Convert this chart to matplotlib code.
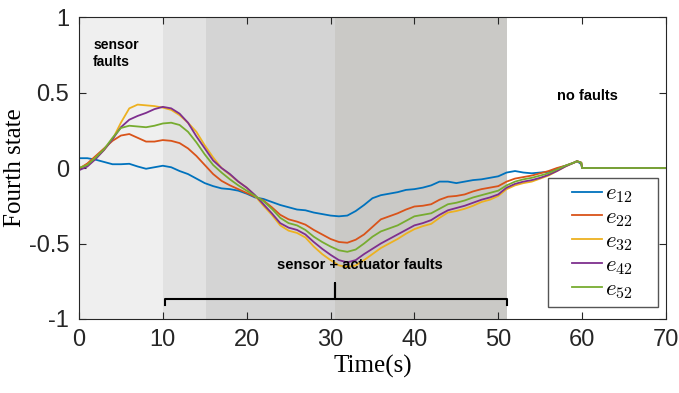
import matplotlib
matplotlib.use('Agg')
import matplotlib.pyplot as plt
from matplotlib.patches import Rectangle

# time samples (s)
t = [0, 1, 2, 3, 4, 5, 6, 7, 8, 9, 10, 11, 12, 13, 14, 15, 16, 17, 18, 19,
     20, 21, 22, 23, 24, 25, 26, 27, 28, 29, 30, 31, 32, 33, 34, 35, 36, 37, 38, 39,
     40, 41, 42, 43, 44, 45, 46, 47, 48, 49, 50, 51, 52, 53, 54, 55, 56, 57, 58, 59,
     59.4, 59.9, 60, 70]

e12 = [0.065, 0.065, 0.055, 0.04, 0.025, 0.025, 0.028, 0.01, -0.005, 0.005,
       0.015, 0.005, -0.02, -0.04, -0.07, -0.1, -0.12, -0.135, -0.14, -0.15,
       -0.17, -0.195, -0.205, -0.225, -0.245, -0.26, -0.275, -0.28, -0.295, -0.305,
       -0.315, -0.32, -0.315, -0.285, -0.245, -0.2, -0.18, -0.17, -0.16, -0.145,
       -0.14, -0.13, -0.115, -0.09, -0.09, -0.1, -0.09, -0.08, -0.075, -0.065,
       -0.055, -0.03, -0.02, -0.03, -0.035, -0.03, -0.025, -0.005, 0.015, 0.035,
       0.045, 0.025, 0.0, 0.0]
e22 = [-0.005, 0.03, 0.08, 0.13, 0.18, 0.215, 0.225, 0.2, 0.175, 0.175,
       0.185, 0.18, 0.165, 0.13, 0.08, 0.02, -0.04, -0.085, -0.115, -0.14,
       -0.165, -0.19, -0.215, -0.26, -0.31, -0.34, -0.355, -0.375, -0.41, -0.44,
       -0.47, -0.49, -0.495, -0.475, -0.44, -0.39, -0.34, -0.32, -0.3, -0.275,
       -0.255, -0.25, -0.24, -0.21, -0.19, -0.185, -0.175, -0.155, -0.14, -0.13,
       -0.12, -0.09, -0.07, -0.06, -0.05, -0.035, -0.02, 0.0, 0.015, 0.035,
       0.045, 0.035, 0.0, 0.0]
e32 = [0.0, 0.02, 0.07, 0.12, 0.19, 0.3, 0.395, 0.42, 0.415, 0.41,
       0.4, 0.385, 0.35, 0.3, 0.24, 0.15, 0.07, 0.0, -0.045, -0.09,
       -0.13, -0.185, -0.25, -0.31, -0.38, -0.415, -0.43, -0.46, -0.52, -0.57,
       -0.61, -0.645, -0.655, -0.645, -0.61, -0.57, -0.53, -0.5, -0.47, -0.435,
       -0.405, -0.385, -0.37, -0.33, -0.295, -0.285, -0.27, -0.25, -0.225, -0.21,
       -0.185, -0.14, -0.115, -0.1, -0.09, -0.07, -0.05, -0.02, 0.01, 0.035,
       0.045, 0.035, 0.0, 0.0]
e42 = [-0.015, 0.01, 0.06, 0.12, 0.19, 0.27, 0.32, 0.345, 0.365, 0.39,
       0.405, 0.395, 0.36, 0.3, 0.21, 0.13, 0.05, 0.0, -0.04, -0.09,
       -0.13, -0.18, -0.24, -0.3, -0.365, -0.395, -0.41, -0.44, -0.49, -0.535,
       -0.575, -0.61, -0.625, -0.61, -0.57, -0.535, -0.5, -0.47, -0.44, -0.41,
       -0.38, -0.365, -0.345, -0.31, -0.28, -0.265, -0.25, -0.23, -0.21, -0.195,
       -0.175, -0.13, -0.105, -0.09, -0.08, -0.065, -0.045, -0.02, 0.01, 0.035,
       0.045, 0.035, 0.0, 0.0]
e52 = [0.0, 0.02, 0.07, 0.125, 0.2, 0.265, 0.28, 0.275, 0.27, 0.28,
       0.295, 0.3, 0.285, 0.24, 0.17, 0.09, 0.02, -0.03, -0.075, -0.115,
       -0.15, -0.185, -0.22, -0.27, -0.33, -0.365, -0.38, -0.41, -0.455, -0.49,
       -0.52, -0.545, -0.555, -0.54, -0.5, -0.455, -0.42, -0.4, -0.38, -0.35,
       -0.32, -0.31, -0.3, -0.27, -0.24, -0.23, -0.215, -0.195, -0.18, -0.165,
       -0.15, -0.115, -0.09, -0.075, -0.065, -0.05, -0.035, -0.01, 0.015, 0.035,
       0.045, 0.035, 0.0, 0.0]

series = [e12, e22, e32, e42, e52]
labels = ['$e_{12}$', '$e_{22}$', '$e_{32}$', '$e_{42}$', '$e_{52}$']
colors = ['#0072BD', '#D95319', '#EDB120', '#7E2F8E', '#77AC30']

# shaded fault phases
band_edges = [0, 10, 15.1, 30.5, 51.1]
band_colors = ['#efefef', '#e2e2e2', '#d4d4d4', '#cac9c6']

plt.rcParams['mathtext.fontset'] = 'cm'

fig = plt.figure(figsize=(6.79, 3.93), dpi=100)
ax = fig.add_axes([0.1163, 0.1883, 0.8645, 0.7684])

for i in range(len(band_colors)):
    ax.axvspan(band_edges[i], band_edges[i + 1], color=band_colors[i], lw=0, zorder=0)

for y, lab, c in zip(series, labels, colors):
    ax.plot(t, y, color=c, lw=1.3, label=lab, zorder=2)

ax.set_xlim(0, 70)
ax.set_ylim(-1, 1)
ax.set_xticks(range(0, 71, 10))
ax.set_yticks([-1, -0.5, 0, 0.5, 1])
ax.set_yticklabels(['-1', '-0.5', '0', '0.5', '1'])
ax.tick_params(direction='in', top=True, right=True, length=5, width=0.8,
               colors='#262626', labelsize=17, pad=7)
for lab in ax.get_xticklabels() + ax.get_yticklabels():
    lab.set_family('Liberation Sans')
for s in ax.spines.values():
    s.set_color('#262626')
    s.set_linewidth(0.8)

ax.set_xlabel('Time(s)', family='Liberation Serif', fontsize=18, labelpad=3)
ax.set_ylabel('Fourth state', family='Liberation Serif', fontsize=18, labelpad=2)

# annotations
ax.text(1.7, 0.76, 'sensor\nfaults', fontsize=10, fontweight='bold',
        family='Liberation Sans', va='center', ha='left', linespacing=1.25)
ax.text(60.6, 0.48, 'no faults', fontsize=10.5, fontweight='bold',
        family='Liberation Sans', va='center', ha='center')
ax.text(33.5, -0.645, 'sensor + actuator faults', fontsize=10.5, fontweight='bold',
        family='Liberation Sans', va='center', ha='center')

# brace under the combined-fault period
bx = [10.3, 10.3, 30.5, 30.5, 30.5, 51.0, 51.0]
by = [-0.91, -0.865, -0.865, -0.76, -0.865, -0.865, -0.91]
ax.plot(bx, by, color='black', lw=1.5, zorder=3)

# legend box drawn separately (MATLAB-style wide frame)
ax.add_patch(Rectangle((0.799, 0.040), 0.187, 0.427, transform=ax.transAxes,
                       facecolor='white', edgecolor='#555555', lw=1.0, zorder=4))
leg = ax.legend(loc='upper left', bbox_to_anchor=(0.840, 0.455), fontsize=16.5,
                frameon=False, handlelength=1.3, labelspacing=0.0, borderpad=0.0,
                handletextpad=0.15, borderaxespad=0)
leg.set_zorder(5)

fig.savefig('out.png', dpi=100)
